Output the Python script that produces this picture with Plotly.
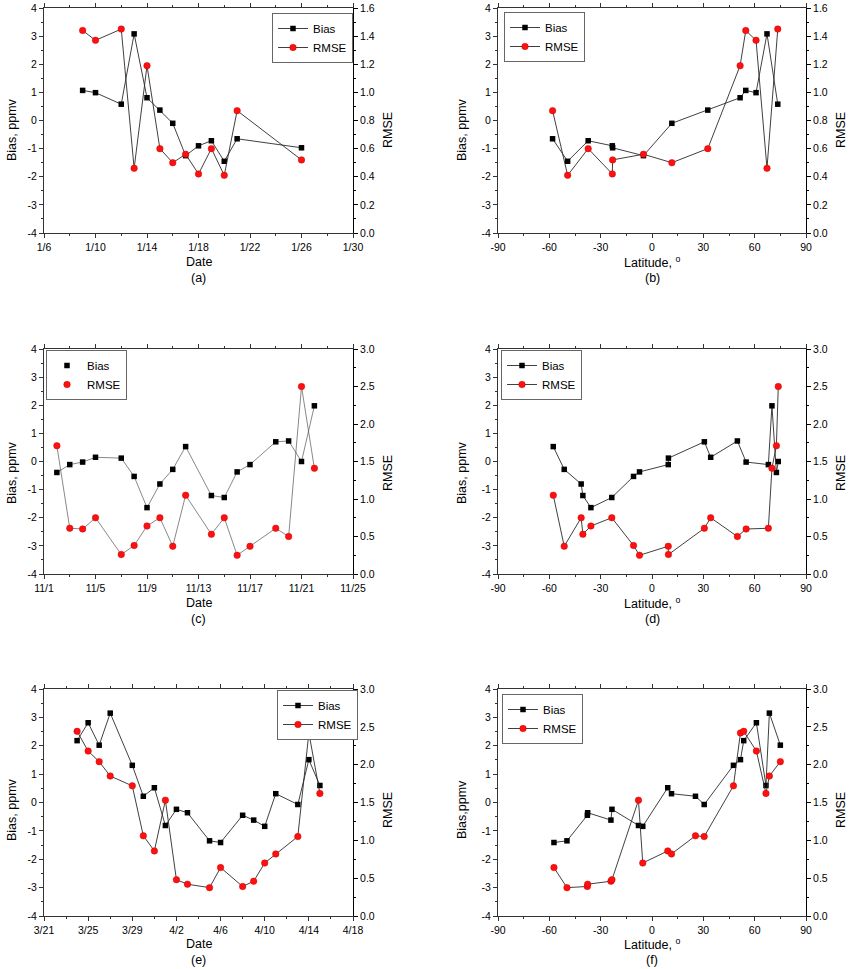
import plotly.graph_objects as go

# ---------------- data ----------------
# Campaign 1 (January) -> panels (a) and (b)
jan_dates = ['1/9', '1/10', '1/12', '1/13', '1/14', '1/15', '1/16', '1/17', '1/18', '1/19', '1/20', '1/21', '1/26']
jan_lat = [54.8, 60.8, 73.5, 67.2, 51.5, 32.6, 11.6, -5.0, -23.2, -37.3, -49.3, -58.1, -23.0]
jan_bias = [1.07, 0.99, 0.58, 3.08, 0.81, 0.37, -0.10, -1.25, -0.90, -0.72, -1.45, -0.65, -0.97]
jan_rmse = [1.44, 1.37, 1.45, 0.46, 1.19, 0.60, 0.50, 0.56, 0.42, 0.60, 0.41, 0.87, 0.52]

# Campaign 2 (November) -> panels (c) and (d)
nov_dates = ['11/2', '11/3', '11/4', '11/5', '11/7', '11/8', '11/9', '11/10', '11/11', '11/12',
             '11/14', '11/15', '11/16', '11/17', '11/19', '11/20', '11/21', '11/22']
nov_lat = [72.7, 68.0, 55.0, 34.3, 9.6, -10.8, -35.7, -41.4, -51.3, -57.7,
           -40.4, -23.5, -7.3, 9.5, 30.6, 49.9, 73.8, 70.1]
nov_bias = [-0.39, -0.11, -0.02, 0.15, 0.12, -0.53, -1.64, -0.80, -0.28, 0.53,
            -1.21, -1.28, -0.37, -0.11, 0.70, 0.73, 0.00, 1.98]
nov_rmse = [1.71, 0.61, 0.60, 0.75, 0.26, 0.38, 0.64, 0.75, 0.37, 1.05,
            0.53, 0.75, 0.25, 0.37, 0.61, 0.50, 2.50, 1.41]

# Campaign 3 (March-April) -> panels (e) and (f)
ma_dates = ['3/24', '3/25', '3/26', '3/27', '3/29', '3/30', '3/31', '4/1', '4/2', '4/3',
            '4/5', '4/6', '4/8', '4/9', '4/10', '4/11', '4/13', '4/14', '4/15']
ma_lat = [53.6, 61.0, 75.0, 68.6, 47.6, 25.4, 9.2, -7.9, -23.4, -37.6,
          -49.7, -57.3, -37.8, -24.0, -5.4, 11.4, 30.5, 51.7, 66.6]
ma_bias = [2.18, 2.81, 2.02, 3.15, 1.31, 0.22, 0.52, -0.81, -0.24, -0.36,
           -1.35, -1.41, -0.45, -0.62, -0.84, 0.31, -0.07, 1.51, 0.60]
ma_rmse = [2.44, 2.18, 2.04, 1.85, 1.72, 1.06, 0.86, 1.53, 0.48, 0.42,
           0.375, 0.64, 0.39, 0.46, 0.70, 0.82, 1.05, 2.42, 1.62]

bias_ticks = [-4, -3, -2, -1, 0, 1, 2, 3, 4]
lat_ticks = [-90, -60, -30, 0, 30, 60, 90]

# ---------------- helpers ----------------
W, H = 850, 969
FONT = "Arial, 'Liberation Sans', sans-serif"
LINE_C = '#2a2a2a'
AX_C = '#333333'


def iso(md, year):
    m, d = md.split('/')
    return f"{year}-{int(m):02d}-{int(d):02d}"


def px(x):
    return x / W


def py(y):
    return 1 - y / H


panels = [
    dict(tag='a', kind='date', dates=jan_dates, year=2012, lat=jan_lat, bias=jan_bias, rmse=jan_rmse,
         xr=('2012-01-06', '2012-01-30'), box=(44, 353, 8, 233), rmax=1.6, rdt=0.2,
         leg=(272, 13), ytitle='Bias, ppmv', lines_in_legend=True,
         ttl=dict(lx=12, rx=388, ymid=130, xt1=262, xt2=278)),
    dict(tag='b', kind='lat', lat=jan_lat, bias=jan_bias, rmse=jan_rmse,
         box=(498, 806, 8, 233), rmax=1.6, rdt=0.2,
         leg=(504, 12), ytitle='Bias, ppmv', lines_in_legend=True,
         ttl=dict(lx=462, rx=841, ymid=130, xt1=262, xt2=278)),
    dict(tag='c', kind='date', dates=nov_dates, year=2011, lat=nov_lat, bias=nov_bias, rmse=nov_rmse,
         xr=('2011-11-01', '2011-11-25'), box=(44, 353, 349, 574), rmax=3.0, rdt=0.5,
         leg=(46, 350), ytitle='Bias, ppmv', lines_in_legend=False,
         ttl=dict(lx=12, rx=388, ymid=473, xt1=603, xt2=619)),
    dict(tag='d', kind='lat', lat=nov_lat, bias=nov_bias, rmse=nov_rmse,
         box=(498, 806, 349, 574), rmax=3.0, rdt=0.5,
         leg=(501, 350), ytitle='Bias, ppmv', lines_in_legend=True,
         ttl=dict(lx=462, rx=841, ymid=473, xt1=603, xt2=619)),
    dict(tag='e', kind='date', dates=ma_dates, year=2012, lat=ma_lat, bias=ma_bias, rmse=ma_rmse,
         xr=('2012-03-21', '2012-04-18'), box=(44, 353, 689, 916), rmax=3.0, rdt=0.5,
         leg=(277, 690), ytitle='Bias, ppmv', lines_in_legend=True,
         ttl=dict(lx=12, rx=388, ymid=810, xt1=944, xt2=960)),
    dict(tag='f', kind='lat', lat=ma_lat, bias=ma_bias, rmse=ma_rmse,
         box=(498, 806, 689, 916), rmax=3.0, rdt=0.5,
         leg=(502, 694), ytitle='Bias,ppmv', lines_in_legend=True,
         ttl=dict(lx=462, rx=841, ymid=810, xt1=944, xt2=960)),
]

fig = go.Figure()
layout = {}
annotations = []
tickfont = dict(family=FONT, size=10.5, color='black')
titlefont = dict(family=FONT, size=12.5, color='black')

for i, p in enumerate(panels, start=1):
    xname = 'x' if i == 1 else f'x{i}'
    yl_n = 2 * i - 1
    yr_n = 2 * i
    ylname = 'y' if yl_n == 1 else f'y{yl_n}'
    yrname = f'y{yr_n}'
    legname = 'legend' if i == 1 else f'legend{i}'

    if p['kind'] == 'date':
        xs = [iso(d, p['year']) for d in p['dates']]
        bias = p['bias']
        rmse = p['rmse']
    else:
        order = sorted(range(len(p['lat'])), key=lambda k: p['lat'][k])
        xs = [p['lat'][k] for k in order]
        bias = [p['bias'][k] for k in order]
        rmse = [p['rmse'][k] for k in order]

    sq = dict(symbol='square', size=5.5, color='black')
    ci = dict(symbol='circle', size=6.5, color='#ff1010', line=dict(color='#d00000', width=0.5))
    ln = dict(color=LINE_C, width=0.9)

    if p['lines_in_legend']:
        fig.add_trace(go.Scatter(x=xs, y=bias, mode='lines+markers', name='Bias', marker=sq, line=ln,
                                 xaxis=xname, yaxis=ylname, legend=legname))
        fig.add_trace(go.Scatter(x=xs, y=rmse, mode='lines+markers', name='RMSE', marker=ci, line=ln,
                                 xaxis=xname, yaxis=yrname, legend=legname))
    else:
        lnc = dict(color='#555555', width=0.7)
        fig.add_trace(go.Scatter(x=xs, y=bias, mode='lines', line=lnc, showlegend=False,
                                 xaxis=xname, yaxis=ylname, hoverinfo='skip'))
        fig.add_trace(go.Scatter(x=xs, y=rmse, mode='lines', line=lnc, showlegend=False,
                                 xaxis=xname, yaxis=yrname, hoverinfo='skip'))
        fig.add_trace(go.Scatter(x=xs, y=bias, mode='markers', name='Bias', marker=sq,
                                 xaxis=xname, yaxis=ylname, legend=legname))
        fig.add_trace(go.Scatter(x=xs, y=rmse, mode='markers', name='RMSE', marker=ci,
                                 xaxis=xname, yaxis=yrname, legend=legname))

    x0, x1, y0, y1 = p['box']

    xa = dict(domain=[px(x0), px(x1)], anchor=ylname, showline=True, linecolor=AX_C, linewidth=1,
              mirror='ticks', ticks='outside', ticklen=4, tickcolor=AX_C, tickwidth=1,
              showgrid=False, zeroline=False, tickfont=tickfont, automargin=False)
    if p['kind'] == 'date':
        xa.update(type='date', range=list(p['xr']), tick0=p['xr'][0], dtick=4 * 86400000,
                  tickformat='%-m/%-d',
                  minor=dict(dtick=2 * 86400000, tick0=p['xr'][0], ticks='outside', ticklen=2,
                             tickcolor=AX_C, showgrid=False))
        xtitle = 'Date'
    else:
        xa.update(range=[-90, 90], tickmode='array', tickvals=lat_ticks,
                  ticktext=[str(v) for v in lat_ticks],
                  minor=dict(dtick=15, tick0=-90, ticks='outside', ticklen=2, tickcolor=AX_C,
                             showgrid=False))
        xtitle = 'Latitude, <sup>o</sup>'

    ya = dict(domain=[py(y1), py(y0)], anchor=xname, range=[-4, 4], tickmode='array',
              tickvals=bias_ticks, ticktext=[str(v) for v in bias_ticks],
              showline=True, linecolor=AX_C, linewidth=1, ticks='outside', ticklen=4,
              tickcolor=AX_C, showgrid=False, zeroline=False, tickfont=tickfont, automargin=False,
              minor=dict(dtick=0.5, tick0=-4, ticks='outside', ticklen=2, tickcolor=AX_C, showgrid=False))
    yb = dict(overlaying=ylname, anchor=xname, side='right', range=[0, p['rmax']],
              tick0=0, dtick=p['rdt'], tickformat='.1f', automargin=False,
              showline=True, linecolor='black', linewidth=1, ticks='outside', ticklen=4,
              tickcolor='black', showgrid=False, zeroline=False, tickfont=tickfont,
              minor=dict(dtick=p['rdt'] / 2, tick0=0, ticks='outside', ticklen=2, tickcolor='black',
                         showgrid=False))

    layout['xaxis' if i == 1 else f'xaxis{i}'] = xa
    layout['yaxis' if yl_n == 1 else f'yaxis{yl_n}'] = ya
    layout[f'yaxis{yr_n}'] = yb

    # axis titles and panel tag
    t = p['ttl']
    xc = (x0 + x1) / 2
    common = dict(xref='paper', yref='paper', showarrow=False, font=titlefont,
                  xanchor='center', yanchor='middle')
    annotations.append(dict(text=xtitle, x=px(xc), y=py(t['xt1']), **common))
    annotations.append(dict(text=f"({p['tag']})", x=px(xc), y=py(t['xt2']), **common))
    annotations.append(dict(text=p['ytitle'], x=px(t['lx']), y=py(t['ymid']), textangle=-90, **common))
    annotations.append(dict(text='RMSE', x=px(t['rx']), y=py(t['ymid']), textangle=-90, **common))

    lx, ly = p['leg']
    layout[legname] = dict(x=px(lx), y=py(ly), xanchor='left', yanchor='top',
                           bgcolor='white', bordercolor='#666666', borderwidth=1,
                           font=dict(family=FONT, size=11.5, color='black'),
                           itemwidth=30, tracegroupgap=0)

fig.update_layout(**layout)
fig.update_layout(width=W, height=H, margin=dict(l=0, r=0, t=0, b=0, autoexpand=False),
                  paper_bgcolor='white', plot_bgcolor='white', annotations=annotations,
                  font=dict(family=FONT, color='black'), showlegend=True)

# remove the default page margin so the 850x969 figure fills the window exactly
fig.write_html("out.html", config={'displayModeBar': False},
               post_script="document.body.style.margin='0';document.body.style.overflow='hidden';")
